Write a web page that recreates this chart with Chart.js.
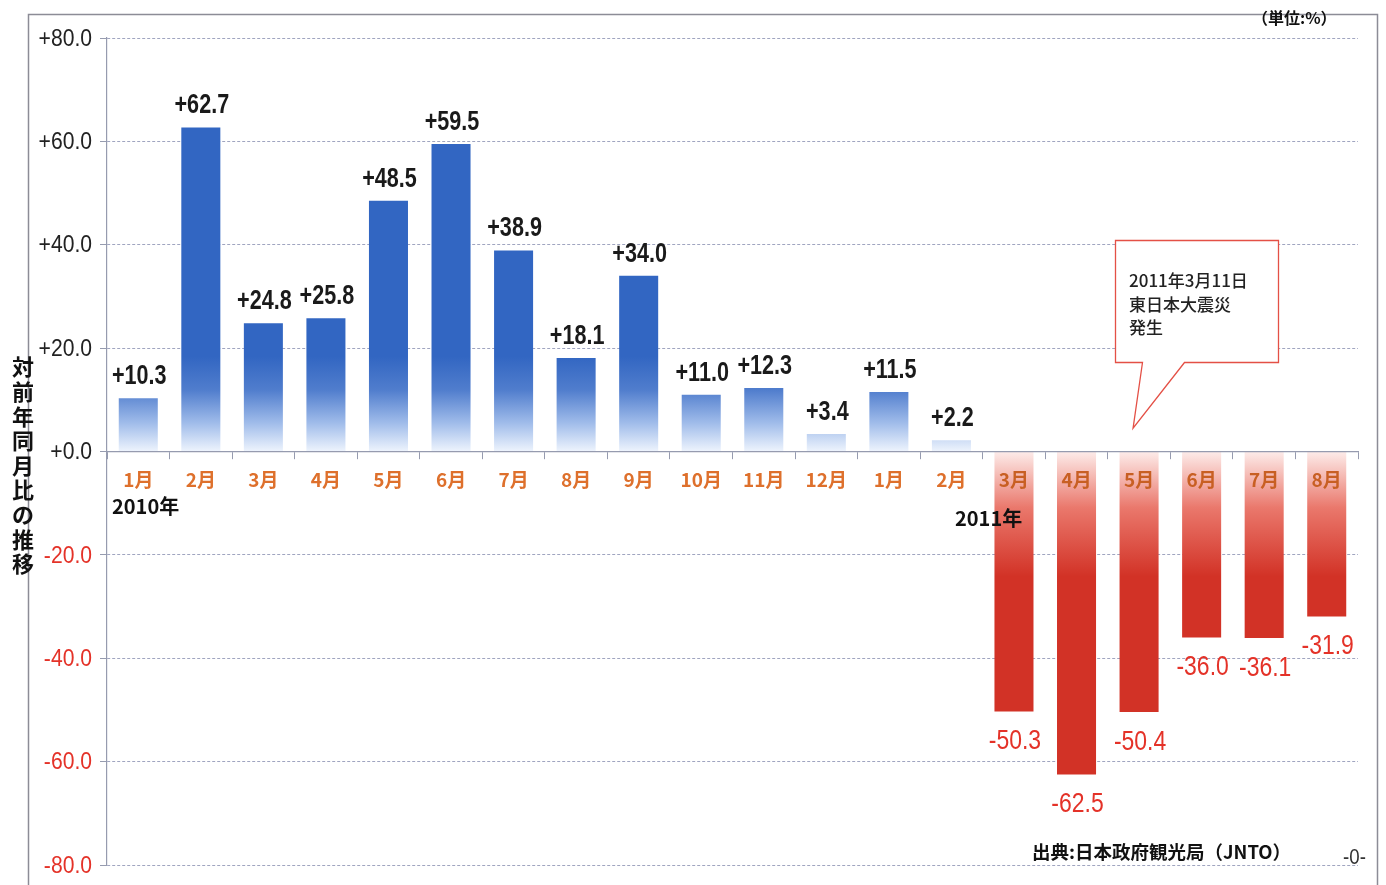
<!DOCTYPE html>
<html>
<head>
<meta charset="utf-8">
<script src="https://cdn.jsdelivr.net/npm/chart.js@4.4.0/dist/chart.umd.min.js"></script>
<style>
html,body{margin:0;padding:0;background:#fff;}
#wrap{position:relative;width:1386px;height:885px;}
canvas{display:block;}
</style>
</head>
<body>
<div id="wrap"><canvas id="c" width="1386" height="885"></canvas></div>
<script>
// ---- data ----
const categories = ['1月','2月','3月','4月','5月','6月','7月','8月','9月','10月','11月','12月','1月','2月','3月','4月','5月','6月','7月','8月'];
const values = [10.3, 62.7, 24.8, 25.8, 48.5, 59.5, 38.9, 18.1, 34.0, 11.0, 12.3, 3.4, 11.5, 2.2, -50.3, -62.5, -50.4, -36.0, -36.1, -31.9];
const yTicks = [80, 60, 40, 20, 0, -20, -40, -60, -80];
const yearLabels = ['2010年', '2011年'];
const yTitle = '対前年同月比の推移';
const unitText = '（単位:%）';
const calloutLines = ['2011年3月11日', '東日本大震災', '発生'];
const sourceText = '出典:日本政府観光局（JNTO）';
const pageText = '-0-';

const SANS = '"Liberation Sans", Arial, sans-serif';
const CJK = '"Noto Sans CJK JP", "Noto Sans", sans-serif';
const BLUE = 'rgb(50,102,194)';
const RED = 'rgb(210,50,38)';
const TICKRED = 'rgb(228,50,40)';
const ORANGE = 'rgb(222,112,44)';
const ORANGE_DARK = 'rgb(200,95,35)';

function fmt(v){
  if (v > 0) return '+' + v.toFixed(1);
  if (v === 0) return '+0.0';
  return v.toFixed(1);
}

function drawNarrow(c, text, x, y, align, baseline, sx){
  c.save();
  c.translate(x, y);
  c.scale(sx, 1);
  c.textAlign = align;
  c.textBaseline = baseline;
  c.fillText(text, 0, 0);
  c.restore();
}

function barColor(ctx){
  const chart = ctx.chart;
  const area = chart.chartArea;
  if (!area) return BLUE;
  const c = chart.ctx;
  const y0 = chart.scales.y.getPixelForValue(0);
  const v = ctx.raw;
  if (v >= 0) {
    const g = c.createLinearGradient(0, y0, 0, y0 - 95);
    g.addColorStop(0, 'rgb(238,244,253)');
    g.addColorStop(0.3, 'rgb(160,188,234)');
    g.addColorStop(0.65, 'rgb(80,125,205)');
    g.addColorStop(1, BLUE);
    return g;
  } else {
    const g = c.createLinearGradient(0, y0, 0, y0 + 125);
    g.addColorStop(0, 'rgb(253,236,234)');
    g.addColorStop(0.45, 'rgb(234,120,108)');
    g.addColorStop(1, RED);
    return g;
  }
}

const decorPlugin = {
  id: 'decor',
  beforeDraw(chart){
    const c = chart.ctx;
    c.save();
    c.fillStyle = '#fff';
    c.fillRect(0,0,chart.width,chart.height);
    c.strokeStyle = 'rgb(140,140,150)';
    c.lineWidth = 1.5;
    c.beginPath();
    c.moveTo(28.5, 885); c.lineTo(28.5, 14.5); c.lineTo(1377.5, 14.5); c.lineTo(1377.5, 885);
    c.stroke();
    c.restore();
  },
  afterDraw(chart){
    const c = chart.ctx;
    const x = chart.scales.x, y = chart.scales.y;
    c.save();
    // y tick labels
    c.font = '24px ' + SANS;
    yTicks.forEach(v => {
      c.fillStyle = v < 0 ? TICKRED : '#222';
      drawNarrow(c, fmt(v), 92, y.getPixelForValue(v) + 1, 'right', 'middle', 0.88);
    });
    // year labels
    c.fillStyle = '#111';
    c.font = 'bold 20px ' + CJK;
    c.textAlign = 'left';
    c.textBaseline = 'middle';
    c.fillText(yearLabels[0], 112, 506);
    c.fillText(yearLabels[1], 955, 518);
    // y title stacked
    c.font = 'bold 22px ' + CJK;
    c.textAlign = 'center';
    for (let i = 0; i < yTitle.length; i++) {
      c.fillText(yTitle[i], 23, 367 + i * 24.6);
    }
    // unit
    c.font = 'bold 16px ' + CJK;
    c.textAlign = 'left';
    c.fillText(unitText, 1252, 18);
    // source
    c.font = 'bold 18.5px ' + CJK;
    c.fillText(sourceText, 1032, 852);
    c.fillStyle = '#333';
    c.font = '22px ' + SANS;
    drawNarrow(c, pageText, 1343, 858, 'left', 'middle', 0.85);
    // callout
    const bx = 1115.5, by = 240.5, bw = 163, bh = 122;
    const tipX = x.getPixelForValue(16) - 6, tipY = y.getPixelForValue(4.5);
    c.fillStyle = '#fff';
    c.strokeStyle = 'rgb(228,80,70)';
    c.lineWidth = 1.3;
    c.beginPath();
    c.moveTo(bx, by);
    c.lineTo(bx + bw, by);
    c.lineTo(bx + bw, by + bh);
    c.lineTo(bx + 69, by + bh);
    c.lineTo(tipX, tipY);
    c.lineTo(bx + 27, by + bh);
    c.lineTo(bx, by + bh);
    c.closePath();
    c.fill();
    c.stroke();
    c.fillStyle = '#222';
    c.font = '500 17px ' + CJK;
    c.textBaseline = 'middle';
    calloutLines.forEach((t, i) => c.fillText(t, 1129, 281 + i * 23.5));
    c.restore();
  }
};

const labelPlugin = {
  id: 'vlabels',
  afterDatasetsDraw(chart){
    const c = chart.ctx;
    const meta = chart.getDatasetMeta(0);
    c.save();
    meta.data.forEach((el, i) => {
      const v = values[i];
      if (v >= 0) {
        c.font = 'bold 27px ' + SANS;
        c.fillStyle = '#1a1a1a';
        drawNarrow(c, fmt(v), el.x + 1, el.y - 14, 'center', 'alphabetic', 0.8);
      } else {
        c.font = '28px ' + SANS;
        c.fillStyle = TICKRED;
        drawNarrow(c, fmt(v), el.x + 1, el.y + 16, 'center', 'top', 0.82);
      }
    });
    c.restore();
  }
};

new Chart(document.getElementById('c'), {
  type: 'bar',
  data: {
    labels: categories,
    datasets: [{
      data: values,
      backgroundColor: barColor,
      borderWidth: 0,
      barPercentage: 0.78,
      categoryPercentage: 0.8
    }]
  },
  options: {
    responsive: false,
    animation: false,
    devicePixelRatio: 1,
    layout: { padding: { top: 38, right: 28, bottom: 20, left: 0 } },
    plugins: { legend: { display: false }, tooltip: { enabled: false } },
    scales: {
      x: {
        position: { y: 0 },
        grid: { display: true, offset: true, drawOnChartArea: false, drawTicks: true, tickLength: 7, color: 'rgb(150,155,175)', z: 1 },
        border: { display: true, color: 'rgb(150,155,175)', width: 1.2, z: 1 },
        ticks: {
          color: ctx => (values[ctx.index] < 0 ? ORANGE_DARK : ORANGE),
          font: { family: CJK, size: 19, weight: 'bold' },
          padding: 10, maxRotation: 0, autoSkip: false, z: 1
        }
      },
      y: {
        min: -80, max: 80,
        afterBuildTicks: s => { s.ticks = yTicks.map(v => ({ value: v })); },
        afterFit: s => { s.width = 107; },
        grid: {
          color: 'rgb(160,165,192)',
          lineWidth: 1,
          tickLength: 7,
          tickColor: 'rgb(150,155,175)'
        },
        border: { display: true, color: 'rgb(150,155,175)', width: 1.2, dash: [3, 2] },
        ticks: { display: false }
      }
    }
  },
  plugins: [decorPlugin, labelPlugin]
});
</script>
</body>
</html>
